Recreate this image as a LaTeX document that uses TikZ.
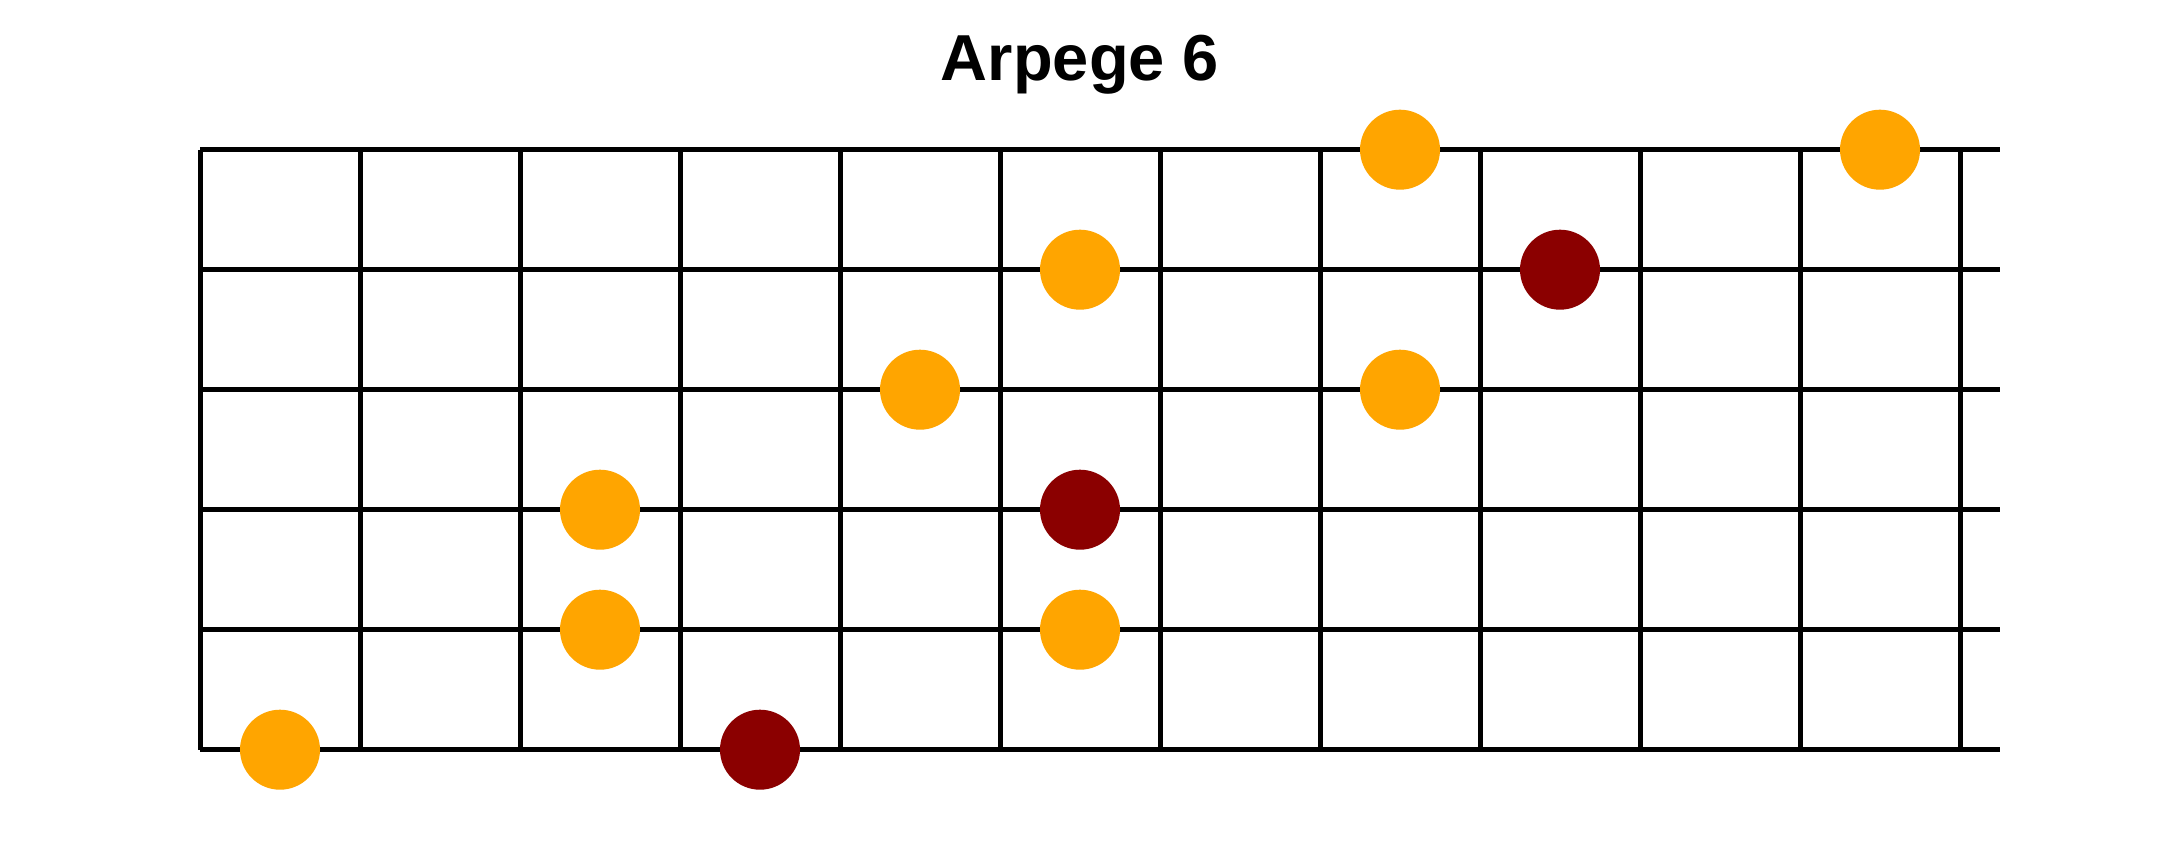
\documentclass[tikz,border=0pt]{standalone}
\usepackage{fontspec}
\setmainfont{Liberation Sans}
\definecolor{noteorange}{RGB}{255,165,0}
\definecolor{notered}{RGB}{139,0,0}
\begin{document}
\begin{tikzpicture}[x=1pt,y=-1pt,
  string/.style={line width=5.5pt,black},
  fret/.style={line width=5pt,black},
  note/.style={circle,inner sep=0pt,minimum size=80pt,fill=#1,draw=none},
  titletext/.style={font=\fontsize{65}{78}\selectfont\bfseries,inner sep=0pt,anchor=base}]
\useasboundingbox (0,0) rectangle (2160,850);
\fill[white] (0,0) rectangle (2160,850);
% frets
\foreach \k in {0,...,11}{
  \draw[fret] ({200+160*\k},149.7) -- ({200+160*\k},749.7);
}
% strings
\foreach \r in {0,...,5}{
  \draw[string] (200,{149.7+120*\r}) -- (2000,{149.7+120*\r});
}
\node[titletext] (title) at (1080,80.7) {Arpege 6};
% notes
\node[note=noteorange] (n1) at (1400,149.7) {};
\node[note=noteorange] (n2) at (1880,149.7) {};
\node[note=noteorange] (n3) at (1080,269.7) {};
\node[note=notered] (n4) at (1560,269.7) {};
\node[note=noteorange] (n5) at (920,389.7) {};
\node[note=noteorange] (n6) at (1400,389.7) {};
\node[note=noteorange] (n7) at (600,509.7) {};
\node[note=notered] (n8) at (1080,509.7) {};
\node[note=noteorange] (n9) at (600,629.7) {};
\node[note=noteorange] (n10) at (1080,629.7) {};
\node[note=noteorange] (n11) at (280,749.7) {};
\node[note=notered] (n12) at (760,749.7) {};
\end{tikzpicture}
\end{document}
